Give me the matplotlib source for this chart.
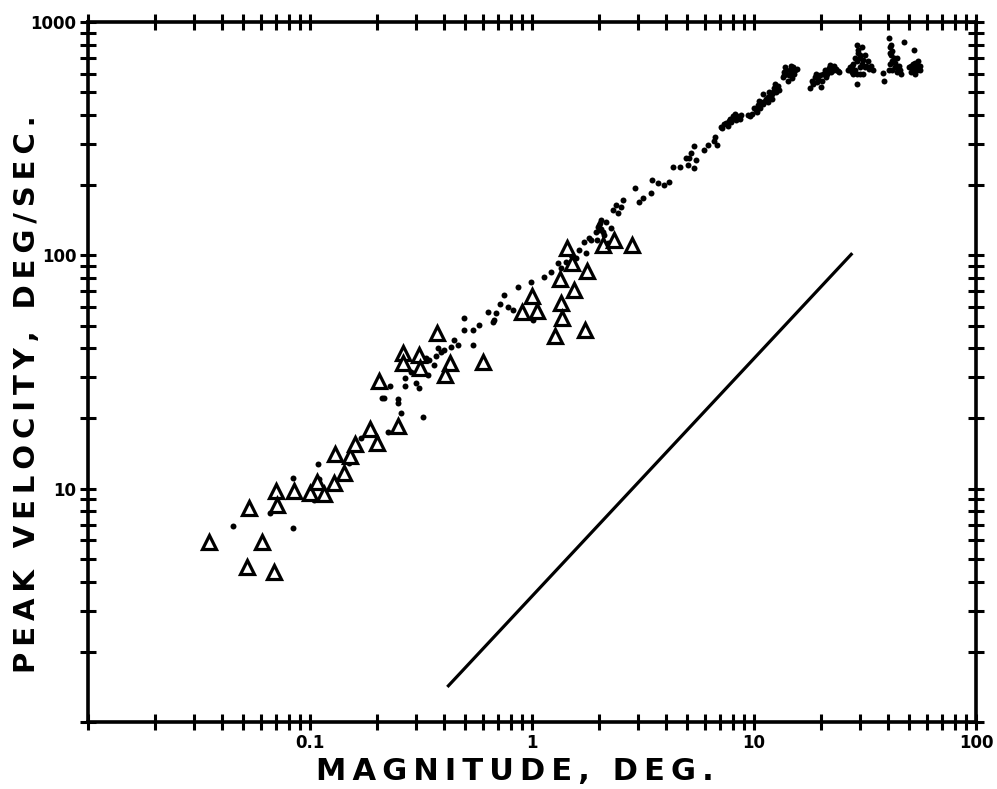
import matplotlib
matplotlib.use("Agg")
import matplotlib.pyplot as plt
from matplotlib.ticker import LogLocator, NullFormatter

# open triangles
tri_mag = [0.035, 0.053, 0.061, 0.052, 0.069, 0.070, 0.071, 0.085, 0.100, 0.108,
           0.116, 0.128, 0.129, 0.142, 0.151, 0.160, 0.187, 0.201, 0.250, 0.205,
           0.263, 0.263, 0.31, 0.314, 0.374, 0.428, 0.406, 0.60,
           1.44, 1.51, 1.77, 1.34, 1.55, 1.35, 1.36, 1.27, 1.73, 1.05, 0.90, 1.0,
           2.09, 2.34, 2.82]
tri_vel = [5.9, 8.3, 5.9, 4.6, 4.4, 9.8, 8.5, 9.8, 9.6, 10.7,
           9.5, 10.6, 14.1, 11.7, 13.8, 15.5, 18.0, 15.7, 18.6, 29,
           38, 34.6, 37.4, 32.9, 46.5, 34.6, 30.7, 34.9,
           108, 93, 86, 79, 71, 62.5, 54, 45, 48, 58, 57, 67,
           111, 116, 111]

# small filled dots
dot_mag = [0.045, 0.084, 0.066, 0.084, 0.109, 0.104, 0.107, 0.110, 0.105, 0.15,
           0.17, 0.225, 0.258, 0.324, 0.21, 0.215, 0.25, 0.25, 0.228, 0.269,
           0.269, 0.30, 0.31, 0.34, 0.363, 0.344, 0.378, 0.40, 0.43, 0.446,
           0.465, 0.495, 0.495, 0.543, 0.578, 0.543, 0.634, 0.668, 0.689, 0.286,
           0.334, 0.39, 0.37, 0.72,
           0.749, 0.865, 0.99, 1.13, 1.22, 1.31, 1.50, 1.71, 1.80, 2.0,
           2.04, 2.44, 0.78, 0.82, 0.675, 1.01, 1.75, 1.35, 1.42, 1.58,
           1.63, 1.84, 1.94, 2.04, 2.107, 2.15, 1.96, 2.265, 2.2, 2.39,
           2.51, 2.31, 2.56, 2.0, 2.02, 1.98, 2.08,
           3.03, 3.16, 2.90, 3.43, 3.46, 3.68, 3.92, 4.13, 4.30, 4.63,
           5.02, 5.35, 4.92, 5.07, 5.46, 5.18, 5.35, 5.93, 6.18, 6.64,
           6.78, 6.58,
           7.1, 7.3, 7.6, 7.5, 7.9, 8.0, 8.3, 8.5, 8.7, 8.2,
           7.2, 7.8, 8.4, 8.6, 7.7, 8.1,
           9.4, 9.8, 10.0, 10.2, 10.6, 10.5, 11.0, 11.3, 11.5, 11.8,
           12.0, 12.2, 12.6, 13.0, 12.4, 11.0,
           9.6, 10.4, 10.8, 11.2, 11.6, 12.0, 12.8, 12.6, 10.3, 11.7, 12.3,
           13.5, 14.0, 14.5, 15.0, 15.6, 14.2, 13.8, 15.2, 14.8,
           13.7, 14.3, 14.6, 15.3, 14.0, 14.9, 13.6,
           17.8, 18.5, 19.5, 20.5, 21.5, 22.5, 23.5, 24.2, 19.0, 21.0,
           22.0, 20.0, 18.2,
           18.8, 19.8, 20.8, 21.8, 22.8, 23.0, 20.3, 19.3, 21.3, 23.8, 22.3,
           26.5, 27.5, 28.5, 29.5, 30.5, 31.5, 32.5, 33.5, 34.5, 30,
           29, 31, 29.2, 38.2, 38.6, 27.1, 29, 30,
           27, 28, 29, 30, 31, 32, 33, 28.5, 30, 29.5, 30.5, 31.5, 28, 27.5,
           40.5, 41, 41.5, 42, 43, 44, 45, 46, 40.5, 44,
           41.5, 42, 42.5, 41, 43, 44.5, 42, 45.5, 41,
           47.5, 52.6,
           50, 52, 54, 56, 53, 51, 55,
           52, 53, 55, 51, 54, 56]
dot_vel = [6.9, 6.8, 7.9, 11.1, 12.8, 8.9, 10.5, 11.0, 10.2, 12.9,
           16.5, 17.5, 21.1, 20.3, 24.5, 24.5, 24.2, 23.3, 27.5, 29.8,
           27.5, 28.4, 27.0, 30.7, 33.9, 35.6, 40.1, 39.3, 40.5, 43.4,
           41.3, 54, 47.9, 47.9, 50.3, 41.3, 57.2, 51.8, 56.6, 31.6,
           36.3, 38.5, 37.0, 62,
           67.6, 73.2, 76.9, 80.8, 84.9, 92.8, 100, 114, 119, 135,
           142, 152, 60, 58.3, 52.9, 52.9, 102, 88.3, 93.7, 97.5,
           105.5, 116.4, 126, 130, 122, 139, 116, 131, 113, 164,
           161, 157, 173, 128, 138, 132, 126,
           169, 176, 195, 185, 210, 204, 200, 206, 239, 239,
           244, 237, 262, 262, 257, 275, 294, 283, 297, 322,
           297, 309,
           355, 365, 360, 370, 372, 395, 380, 390, 400, 405,
           350, 385, 395, 385, 375, 388,
           400, 405, 430, 420, 430, 460, 445, 470, 455, 480,
           470, 500, 520, 510, 545, 490,
           395, 440, 455, 460, 475, 490, 530, 500, 410, 500, 520,
           580, 600, 620, 640, 630, 560, 640, 600, 575,
           610, 590, 650, 620, 625, 610, 595,
           520, 545, 570, 600, 615, 640, 630, 610, 600, 580,
           655, 525, 560,
           580, 590, 620, 635, 620, 650, 560, 555, 600, 615, 610,
           620, 650, 700, 740, 780, 720, 680, 650, 620, 640,
           600, 600, 543, 605, 560, 623, 800, 700,
           640, 660, 680, 720, 690, 650, 630, 620, 600, 760, 660, 640, 600, 610,
           850, 780, 720, 680, 640, 610, 650, 600, 620, 700,
           800, 750, 700, 660, 670, 630, 620, 620, 740,
           822, 759,
           640, 660, 650, 620, 600, 610, 680,
           630, 670, 640, 650, 620, 650]

# reference line
line_mag = [0.42, 27.4]
line_vel = [1.43, 101]

x_ticks = [0.01, 0.1, 1, 10, 100]
x_labels = ["", "0.1", "1", "10", "100"]
y_ticks = [1, 10, 100, 1000]
y_labels = ["", "10", "100", "1000"]

fig = plt.figure(figsize=(9.97, 7.89), dpi=100)
ax = fig.add_axes([0.0883, 0.0849, 0.8907, 0.8872])

ax.plot(dot_mag, dot_vel, "o", color="black", markersize=4.3, markeredgewidth=0)
ax.plot(tri_mag, tri_vel, "^", markerfacecolor="white", markeredgecolor="black",
        markersize=10, markeredgewidth=2.3)
ax.plot(line_mag, line_vel, "-", color="black", linewidth=2.3)

ax.set_xscale("log")
ax.set_yscale("log")
ax.set_xlim(0.01, 100)
ax.set_ylim(1, 1000)

ax.set_xticks(x_ticks, x_labels)
ax.set_yticks(y_ticks, y_labels)
ax.xaxis.set_minor_locator(LogLocator(base=10, subs=range(2, 10)))
ax.yaxis.set_minor_locator(LogLocator(base=10, subs=range(2, 10)))
ax.xaxis.set_minor_formatter(NullFormatter())
ax.yaxis.set_minor_formatter(NullFormatter())

ax.tick_params(which="both", direction="inout", length=11, width=2.2,
               top=True, right=True, pad=3)
for lab in ax.get_xticklabels() + ax.get_yticklabels():
    lab.set_fontweight("bold")
    lab.set_fontsize(12)

for s in ax.spines.values():
    s.set_linewidth(2.6)

# letter-spaced axis titles, like the lettering of the original
sp = "\u2009"
xtitle = sp.join("MAGNITUDE, DEG.")
ytitle = sp.join("PEAK VELOCITY, DEG/SEC.")
fig.text(515 / 997, 1 - 772 / 789, xtitle, fontsize=22, fontweight="bold",
         ha="center", va="center")
fig.text(27 / 997, 1 - 394 / 789, ytitle, fontsize=21, fontweight="bold",
         ha="center", va="center", rotation=90)

fig.savefig("out.png", dpi=100)
